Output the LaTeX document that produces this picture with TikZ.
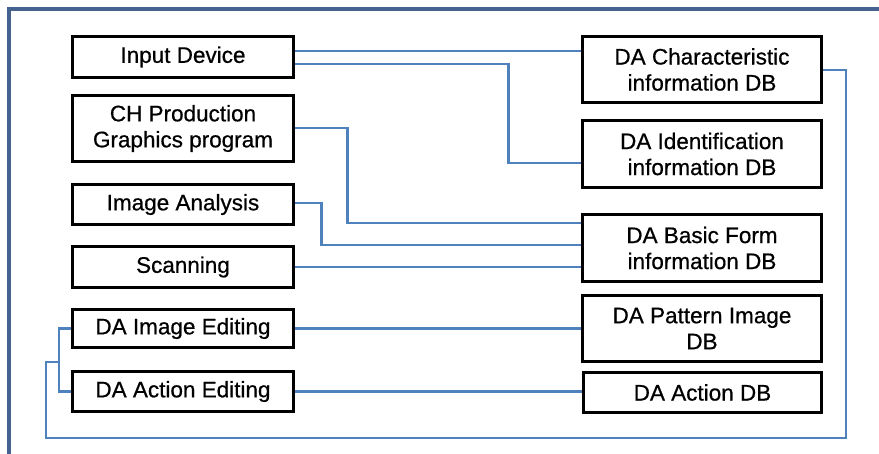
\documentclass[tikz,border=0pt]{standalone}
\usepackage{fontspec}
\setmainfont{Liberation Sans}
\newfontfamily\labelfont{Liberation Sans}[FakeBold=0.6]
\begin{document}
\begin{tikzpicture}[x=1pt,y=-1pt,
  box/.style={draw=black,line width=3pt,inner sep=0pt,align=center,
    font=\labelfont\fontsize{22.5}{26}\selectfont},
  lbox/.style={box,minimum width=221pt},
  rbox/.style={box,minimum width=239pt},
  link/.style={draw=linkblue,line width=2.2pt},
  frame/.style={draw=frameblue,line width=3.2pt}]
\definecolor{linkblue}{HTML}{4F81BD}
\definecolor{frameblue}{HTML}{44648F}
\useasboundingbox (0,0) rectangle (879,453);
\fill[white] (0,0) rectangle (879,453);
% outer frame, open on the right and bottom
\draw[frame] (880,9) -- (9,9) -- (9,454);

% left column: processes
\node[lbox,minimum height=41pt] (in)  at (183,57)    {Input Device};
\node[lbox,minimum height=66pt] (ch)  at (183,128.5) {CH Production\\Graphics program};
\node[lbox,minimum height=40pt] (ia)  at (183,204.5) {Image Analysis};
\node[lbox,minimum height=41pt] (sc)  at (183,267)   {Scanning};
\node[lbox,minimum height=38pt] (die) at (183,328.5) {DA Image Editing};
\node[lbox,minimum height=40pt] (dae) at (183,391.5) {DA Action Editing};

% right column: databases
\node[rbox,minimum height=66pt] (chr) at (702,69.5)  {DA Characteristic\\information DB};
\node[rbox,minimum height=67pt] (idn) at (702,154)   {DA Identification\\information DB};
\node[rbox,minimum height=67pt] (bas) at (702,248)   {DA Basic Form\\information DB};
\node[rbox,minimum height=66pt] (pat) at (702,328.5) {DA Pattern Image\\DB};
\node[rbox,minimum width=238pt,minimum height=40pt] (adb) at (702.5,392.5) {DA Action DB};

% routing points
\coordinate (loop) at (846,438);
\coordinate (lp)   at (46,362);
\coordinate (jn)   at (59,362);

% connectors
\draw[link] ([yshift=6pt]in.east) -- ([yshift=18.5pt]chr.west);
\draw[link] ([yshift=-7pt]in.east) -- ++(213.5,0) |- ([yshift=-9pt]idn.west);
\draw[link] ([yshift=0.5pt]ch.east) -- ++(52.5,0) |- ([yshift=25pt]bas.west);
\draw[link] ([yshift=1.5pt]ia.east) -- ++(26.5,0) |- ([yshift=3pt]bas.west);
\draw[link] (sc.east) -- ([yshift=-19pt]bas.west);
\draw[link] (die.east) -- (pat.west);
\draw[link] (dae.east) -- (dae.east -| adb.west);
\draw[link] ([yshift=-0.5pt]chr.east) -| (loop) -| (lp) -- (jn);
\draw[link] (die.west) -| (jn) |- (dae.west);
\end{tikzpicture}
\end{document}
